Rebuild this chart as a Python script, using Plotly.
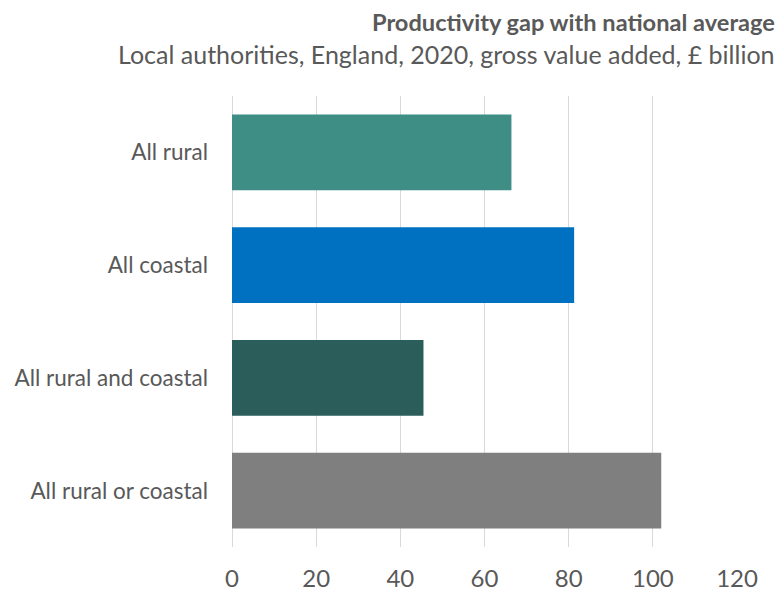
import plotly.graph_objects as go

categories = ["All rural", "All coastal", "All rural and coastal", "All rural or coastal"]
values = [66.4, 81.3, 45.5, 102.0]
bar_colors = ["#3E8E86", "#0070C0", "#2B5E5A", "#7F7F7F"]
tick_values = [0, 20, 40, 60, 80, 100, 120]
title_text = "Productivity gap with national average"
subtitle_text = "Local authorities, England, 2020, gross value added, £ billion"

FONT = "Lato"
TXT = "#595959"

# page body has an 8px default margin; compensate so the figure lands at 0,0 of the window
OFF = 8
PLOT_L, PLOT_R, PLOT_T, PLOT_B = 232, 737.5, 95.5, 547.5

fig = go.Figure(
    go.Bar(
        x=values,
        y=categories,
        orientation="h",
        marker=dict(color=bar_colors, line=dict(width=0)),
        hoverinfo="x+y",
    )
)

pw = PLOT_R - PLOT_L
ph = PLOT_B - PLOT_T

fig.update_layout(
    width=784 - OFF,
    height=596 - OFF,
    margin=dict(l=PLOT_L - OFF, r=784 - PLOT_R, t=PLOT_T - OFF, b=596 - PLOT_B, pad=0, autoexpand=False),
    paper_bgcolor="white",
    plot_bgcolor="white",
    bargap=0.327,
    showlegend=False,
    font=dict(family=FONT, color=TXT),
    xaxis=dict(
        range=[0, 120],
        tickvals=tick_values,
        ticktext=[str(v) for v in tick_values],
        showgrid=True,
        gridcolor="#D9D9D9",
        gridwidth=1.3,
        zeroline=True,
        zerolinecolor="#D9D9D9",
        zerolinewidth=1.3,
        showline=False,
        ticks="",
        ticklabelstandoff=15,
        tickfont=dict(family=FONT, size=24, color=TXT),
        automargin=False,
        fixedrange=True,
    ),
    yaxis=dict(
        autorange="reversed",
        showgrid=False,
        zeroline=False,
        showline=False,
        ticks="",
        ticklabelstandoff=23,
        tickfont=dict(family=FONT, size=22.5, color=TXT),
        automargin=False,
        fixedrange=True,
    ),
    annotations=[
        dict(
            text="<b>" + title_text + "</b>",
            xref="paper", yref="paper",
            x=(777 - PLOT_L) / pw, y=(PLOT_B - 21) / ph,
            xanchor="right", yanchor="middle",
            showarrow=False, borderpad=0,
            font=dict(family=FONT, size=23.6, color=TXT),
        ),
        dict(
            text=subtitle_text,
            xref="paper", yref="paper",
            x=(777 - PLOT_L) / pw, y=(PLOT_B - 53) / ph,
            xanchor="right", yanchor="middle",
            showarrow=False, borderpad=0,
            font=dict(family=FONT, size=25, color=TXT),
        ),
    ],
)

fig.write_html("out.html")
